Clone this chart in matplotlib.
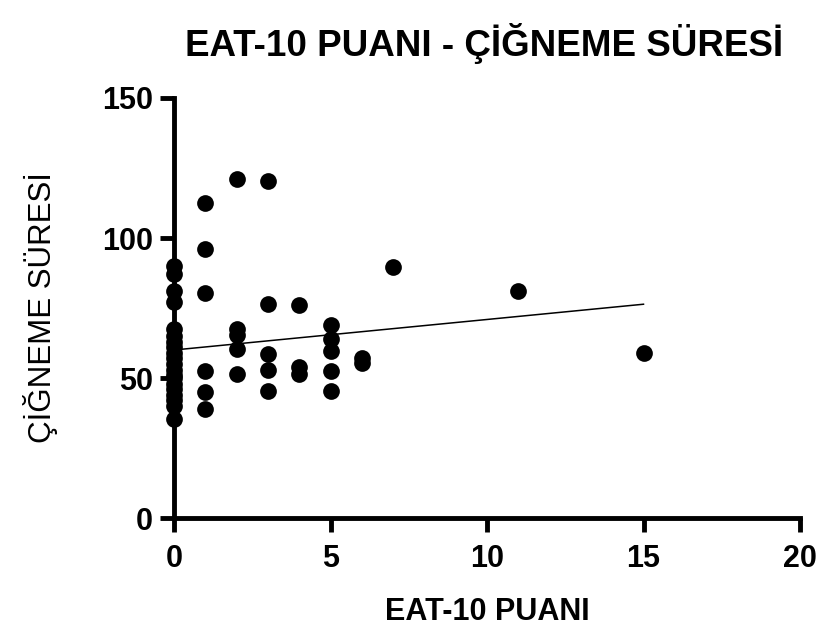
import matplotlib
matplotlib.use("Agg")
import matplotlib.pyplot as plt
import numpy as np

# Data
eat10 = [0]*20 + [1]*6 + [2]*5 + [3]*5 + [4]*3 + [5]*5 + [6]*2 + [7, 11, 15]
cigneme = [90, 87, 81, 77, 67.5, 65, 63, 61, 59, 57, 55, 53, 51, 50, 48, 46, 44, 42, 40, 35.5,
           112.5, 96, 80.5, 52.5, 45, 39,
           121, 67.5, 65.5, 60.5, 51.5,
           120.5, 76.5, 58.5, 53, 45.5,
           76, 54, 51.5,
           69, 64, 59.5, 52.5, 45.5,
           57, 55.5,
           89.5, 81, 59]
fit_intercept = 60.0
fit_slope = 1.09

title = "EAT-10 PUANI - ÇİĞNEME SÜRESİ"
xlabel = "EAT-10 PUANI"
ylabel = "ÇİĞNEME SÜRESİ"
xticks = [0, 5, 10, 15, 20]
yticks = [0, 50, 100, 150]

plt.rcParams['font.family'] = ['Liberation Sans', 'DejaVu Sans']

fig = plt.figure(figsize=(8.24, 6.26), dpi=100)
ax = fig.add_axes([174/824, 1-518/626, 626/824, 420/626])

ax.scatter(eat10, cigneme, s=145, color='black', zorder=3, clip_on=False, linewidths=0)
xl = np.array([min(eat10), max(eat10)])
ax.plot(xl, fit_intercept + fit_slope*xl, color='black', lw=1.1, zorder=2)

ax.set_xlim(0, 20)
ax.set_ylim(0, 150)
ax.set_xticks(xticks)
ax.set_yticks(yticks)
for s in ['top', 'right']:
    ax.spines[s].set_visible(False)
for s in ['left', 'bottom']:
    ax.spines[s].set_linewidth(3.5)
ax.tick_params(width=3.5, length=10, direction='out', labelsize=22)
ax.tick_params(axis='x', pad=9)
ax.tick_params(axis='y', pad=5)
for lab in ax.get_xticklabels() + ax.get_yticklabels():
    lab.set_fontweight('bold')

ax.set_xlabel(xlabel, fontsize=22, fontweight='bold', labelpad=16)
ax.set_ylabel(ylabel, fontsize=22.5, labelpad=32)
fig.text(0.587, 0.93, title, fontsize=26.5, fontweight='bold', ha='center', va='center')

fig.savefig('out.png', dpi=100)
